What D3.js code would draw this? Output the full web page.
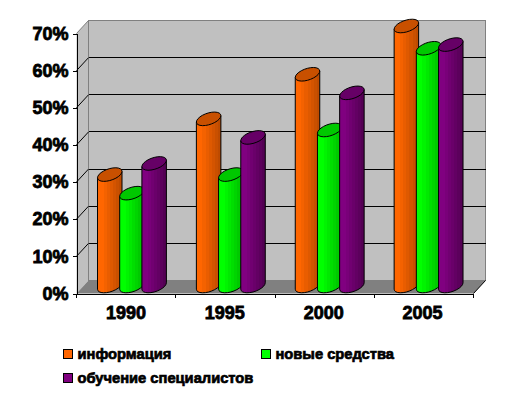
<!DOCTYPE html>
<html>
<head>
<meta charset="utf-8">
<script src="https://cdn.jsdelivr.net/npm/d3@7"></script>
<style>
html, body { margin: 0; padding: 0; background: #fff; }
svg { display: block; }
text { font-family: "Liberation Sans", Arial, sans-serif; font-weight: bold; fill: #000; stroke: #000; }
.axis path, .axis line { stroke: #000; stroke-width: 1; shape-rendering: crispEdges; }
</style>
</head>
<body>
<div id="chart"></div>
<script>
// data
var years = ["1990", "1995", "2000", "2005"];
var seriesNames = ["информация", "новые средства", "обучение специалистов"];
var info = [30, 45, 57, 70];
var tools = [25, 30, 42, 64];
var training = [33, 40, 52, 65];
var yTicks = [0, 10, 20, 30, 40, 50, 60, 70];

var seriesValues = [info, tools, training];
var colors = [
    { light: "#ff6600", dark: "#b34700", top: "#c85000" },
    { light: "#00ff00", dark: "#00b300", top: "#00c800" },
    { light: "#800080", dark: "#4d004d", top: "#660066" }
];

var width = 511, height = 396;
var depth = { x: 12, y: -13 }; // offset of the back wall
var axisL = 76.5, axisR = 473.5;

var svg = d3.select("#chart").append("svg")
    .attr("width", width)
    .attr("height", height);

// bars sit a little left of the axis ticks in the original
var scaleX = d3.scaleBand().domain(years).range([axisL, 472]);
var scaleTick = d3.scaleLinear().domain([0, years.length]).range([axisL, axisR]);
var scaleY = d3.scaleLinear().domain([0, 70]).range([293.5, 33.5]);
var scaleSeries = d3.scalePoint().domain(d3.range(3)).range([21, 65.4]);

var barW = 24.5;
var tilt = -3.2, ry = 6;

// gradient bands for the cylinders
var defs = svg.append("defs");
colors.forEach(function (c, i) {
    var grad = defs.append("linearGradient").attr("id", "bar" + i);
    var mix = d3.interpolateRgb(c.light, c.dark);
    d3.range(8).forEach(function (k) {
        // first third stays at full colour, then steps down
        var t = k < 2 ? 0 : (k - 1) / 7;
        grad.append("stop").attr("offset", k / 8).attr("stop-color", mix(t));
        grad.append("stop").attr("offset", (k + 1) / 8).attr("stop-color", mix(t));
    });
});

// walls
var bx = axisL + depth.x, rx = axisR + depth.x, by = scaleY(0) + depth.y, ty = scaleY(70) + depth.y;

svg.append("polygon")
    .attr("points", [[axisL, scaleY(70)], [bx, ty], [bx, by], [axisL, scaleY(0)]].join(" "))
    .attr("fill", "#c0c0c0");
svg.append("rect")
    .attr("x", bx).attr("y", ty)
    .attr("width", rx - bx).attr("height", by - ty)
    .attr("fill", "#c0c0c0")
    .attr("stroke", "#808080").attr("stroke-width", 1)
    .attr("shape-rendering", "crispEdges");
svg.append("polygon")
    .attr("points", [[axisL, scaleY(0)], [bx, by], [rx, by], [axisR, scaleY(0)]].join(" "))
    .attr("fill", "#808080");
svg.append("line")
    .attr("x1", axisR).attr("y1", scaleY(0)).attr("x2", rx).attr("y2", by)
    .attr("stroke", "#000");
svg.append("line")
    .attr("x1", bx).attr("y1", ty).attr("x2", bx).attr("y2", by)
    .attr("stroke", "#808080")
    .attr("shape-rendering", "crispEdges");

// gridlines
var grid = yTicks.filter(function (d) { return d > 0; });
svg.selectAll(".grid").data(grid.filter(function (d) { return d < 70; })).enter().append("line")
    .attr("class", "grid")
    .attr("x1", bx).attr("x2", rx)
    .attr("y1", function (d) { return scaleY(d) + depth.y; })
    .attr("y2", function (d) { return scaleY(d) + depth.y; })
    .attr("stroke", "#000")
    .attr("shape-rendering", "crispEdges");
svg.selectAll(".grid-side").data(grid).enter().append("line")
    .attr("class", "grid-side")
    .attr("x1", axisL).attr("x2", bx)
    .attr("y1", function (d) { return scaleY(d); })
    .attr("y2", function (d) { return scaleY(d) + depth.y; })
    .attr("stroke", function (d) { return d === 70 ? "#808080" : "#000"; });

// tilted ellipse outline
function ellipsePath(cx, cy) {
    var pts = d3.range(0, 360, 15).map(function (a) {
        var r = a * Math.PI / 180;
        return [
            cx + barW / 2 * Math.cos(r),
            cy + ry * Math.sin(r) + tilt * Math.cos(r)
        ];
    });
    return "M" + pts.join("L") + "Z";
}

// side of the cylinder: from the left end of the top to the bottom ellipse
function bodyPath(x, yTop, yBase) {
    var cx = x + barW / 2, n = 12;
    var p = [];
    d3.range(0, n + 1).forEach(function (k) {
        var r = Math.PI * k / n;
        p.push([cx + barW / 2 * Math.cos(r), yBase + ry * Math.sin(r) + tilt * Math.cos(r)]);
    });
    p.push([x, yTop - tilt]);
    p.push([x + barW, yTop + tilt]);
    return "M" + p.join("L") + "Z";
}

// bars, one group per year
var offsetY = -7.5;
years.forEach(function (year, j) {
    seriesValues.forEach(function (vals, i) {
        var x = scaleX(year) + scaleSeries(i);
        var yTop = scaleY(vals[j]) + offsetY;
        var yBase = scaleY(0) + offsetY;
        svg.append("path")
            .attr("d", bodyPath(x, yTop, yBase))
            .attr("fill", "url(#bar" + i + ")")
            .attr("stroke", "#000")
            .attr("stroke-width", 1);
        svg.append("path")
            .attr("d", ellipsePath(x + barW / 2, yTop))
            .attr("fill", colors[i].top)
            .attr("stroke", "#000")
            .attr("stroke-width", 1);
    });
});

// axes
var axisY = d3.axisLeft(scaleY).tickValues(yTicks).tickSize(4).tickPadding(4)
    .tickFormat(function (d) { return d + "%"; });
svg.append("g").attr("class", "axis axis-y")
    .attr("transform", "translate(" + axisL + ",0)")
    .call(axisY);

var axisX = d3.axisBottom(scaleX).tickSize(0).tickPadding(13);
svg.append("g").attr("class", "axis axis-x")
    .attr("transform", "translate(0," + scaleY(0) + ")")
    .call(axisX);
svg.select(".axis-x .domain").attr("d", "M" + axisL + ",0.5H" + axisR);

// ticks between the categories
svg.selectAll(".xtick").data(d3.range(years.length + 1)).enter().append("line")
    .attr("class", "xtick")
    .attr("x1", function (d) { return scaleTick(d); })
    .attr("x2", function (d) { return scaleTick(d); })
    .attr("y1", scaleY(0)).attr("y2", scaleY(0) + 4)
    .attr("stroke", "#000")
    .attr("shape-rendering", "crispEdges");

svg.selectAll(".axis text")
    .style("font-family", "'Liberation Sans', Arial, sans-serif")
    .style("font-size", "18px")
    .style("stroke-width", "0.8px");

// legend
var legendPos = [[63.5, 349.5], [261.5, 349.5], [63.5, 373.5]];
var legend = svg.selectAll(".legend").data(seriesNames).enter().append("g")
    .attr("class", "legend")
    .attr("transform", function (d, i) { return "translate(" + legendPos[i] + ")"; });
legend.append("rect")
    .attr("width", 9).attr("height", 9)
    .attr("fill", function (d, i) { return colors[i].light; })
    .attr("stroke", "#000")
    .attr("shape-rendering", "crispEdges");
legend.append("text")
    .attr("x", 14).attr("y", 9.5)
    .style("font-size", "14.7px")
    .style("stroke-width", "0.7px")
    .text(function (d) { return d; });
</script>
</body>
</html>
